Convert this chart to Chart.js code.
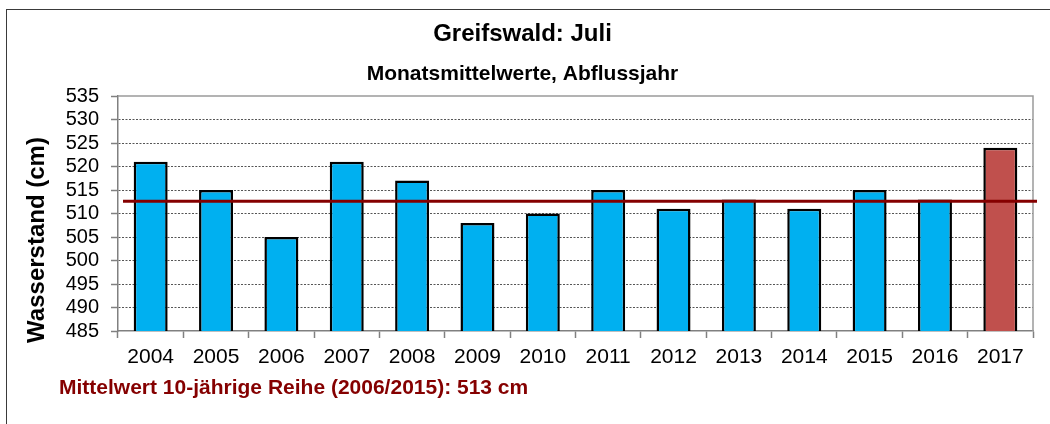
<!DOCTYPE html>
<html>
<head>
<meta charset="utf-8">
<script src="https://cdn.jsdelivr.net/npm/chart.js@4.4.0/dist/chart.umd.min.js"></script>
<style>
    html, body { margin: 0; padding: 0; background: #fff; }
    #wrap { width: 1050px; height: 424px; }
</style>
</head>
<body>
<div id="wrap"><canvas id="chart" width="1050" height="424"></canvas></div>
<script>
const years = ['2004', '2005', '2006', '2007', '2008', '2009', '2010', '2011', '2012', '2013', '2014', '2015', '2016', '2017'];
const levels = [521, 515, 505, 521, 517, 508, 510, 515, 511, 513, 511, 515, 513, 524];
const currentYear = '2017';
const yMin = 485;
const yMax = 535;
const yStep = 5;
const meanValue = 512.6;
const meanText = 'Mittelwert 10-jährige Reihe (2006/2015): 513 cm';

const FONT = "'Liberation Sans', Arial, sans-serif";
const BLUE = '#00B0F0';
const RED = '#C0504D';
const DARKRED = '#850000';

const barColors = years.map(y => y === currentYear ? RED : BLUE);

// Rahmen, Mittelwertlinie und Zusatztexte
const decor = {
    id: 'decor',
    beforeDraw(chart) {
        const ctx = chart.ctx;
        ctx.save();
        ctx.fillStyle = '#fff';
        ctx.fillRect(0, 0, chart.width, chart.height);
        ctx.strokeStyle = '#3a3a3a';
        ctx.lineWidth = 1;
        ctx.strokeRect(6.5, 9.5, 1200, 600);
        ctx.restore();
    },
    afterDraw(chart) {
        const ctx = chart.ctx;
        const area = chart.chartArea;
        const y = chart.scales.y;
        ctx.save();

        // graue Rahmenlinie oben/rechts
        ctx.strokeStyle = '#9a9a9a';
        ctx.lineWidth = 1.5;
        ctx.beginPath();
        ctx.moveTo(area.left, area.top);
        ctx.lineTo(area.right, area.top);
        ctx.lineTo(area.right, area.bottom);
        ctx.stroke();

        // Mittelwert
        const my = y.getPixelForValue(meanValue);
        ctx.strokeStyle = DARKRED;
        ctx.lineWidth = 3;
        ctx.beginPath();
        ctx.moveTo(area.left + 5, my);
        ctx.lineTo(area.right + 4, my);
        ctx.stroke();

        // Achsentitel
        ctx.fillStyle = '#000';
        ctx.font = 'bold 24px ' + FONT;
        ctx.textAlign = 'center';
        ctx.textBaseline = 'middle';
        ctx.translate(37, 240);
        ctx.rotate(-Math.PI / 2);
        ctx.fillText('Wasserstand (cm)', 0, 0);
        ctx.restore();

        ctx.save();
        ctx.fillStyle = DARKRED;
        ctx.font = 'bold 21px ' + FONT;
        ctx.textAlign = 'left';
        ctx.textBaseline = 'alphabetic';
        ctx.fillText(meanText, 59, 394);
        ctx.restore();
    }
};

new Chart(document.getElementById('chart'), {
    type: 'bar',
    data: {
        labels: years,
        datasets: [{
            label: 'Wasserstand',
            data: levels,
            backgroundColor: barColors,
            borderColor: '#000',
            borderWidth: 2.5,
            borderSkipped: false,
            barPercentage: 0.52,
            categoryPercentage: 1.0
        }]
    },
    options: {
        responsive: false,
        animation: false,
        devicePixelRatio: 1,
        layout: { padding: { left: 12, right: 17, top: 0, bottom: 0 } },
        plugins: {
            legend: { display: false },
            tooltip: { enabled: false },
            title: {
                display: true,
                text: 'Greifswald: Juli',
                color: '#000',
                font: { family: FONT, size: 24, weight: 'bold' },
                padding: { top: 20, bottom: 13 }
            },
            subtitle: {
                display: true,
                text: 'Monatsmittelwerte, Abflussjahr',
                color: '#000',
                font: { family: FONT, size: 21, weight: 'bold' },
                padding: { top: 0, bottom: 9 }
            }
        },
        scales: {
            x: {
                offset: true,
                grid: {
                    offset: true,
                    drawOnChartArea: false,
                    drawTicks: true,
                    tickLength: 7,
                    tickColor: '#808080',
                    tickWidth: 1.5
                },
                border: { color: '#808080', width: 1.5 },
                ticks: {
                    color: '#000',
                    padding: 7,
                    font: { family: FONT, size: 21 }
                },
                afterFit(scale) { scale.height = 93; }
            },
            y: {
                min: yMin,
                max: yMax,
                grid: {
                    color: ctx => (ctx.tick && (ctx.tick.value === yMin || ctx.tick.value === yMax)) ? 'rgba(0,0,0,0)' : '#555',
                    lineWidth: 1,
                    tickLength: 7,
                    tickColor: '#808080',
                    tickWidth: 1.5,
                    tickBorderDash: []
                },
                border: { color: '#808080', width: 1.5, dash: [2, 1.5] },
                ticks: {
                    stepSize: yStep,
                    autoSkip: false,
                    color: '#000',
                    padding: 12,
                    font: { family: FONT, size: 20 }
                },
                afterFit(scale) { scale.width = 106; }
            }
        }
    },
    plugins: [decor]
});
</script>
</body>
</html>
